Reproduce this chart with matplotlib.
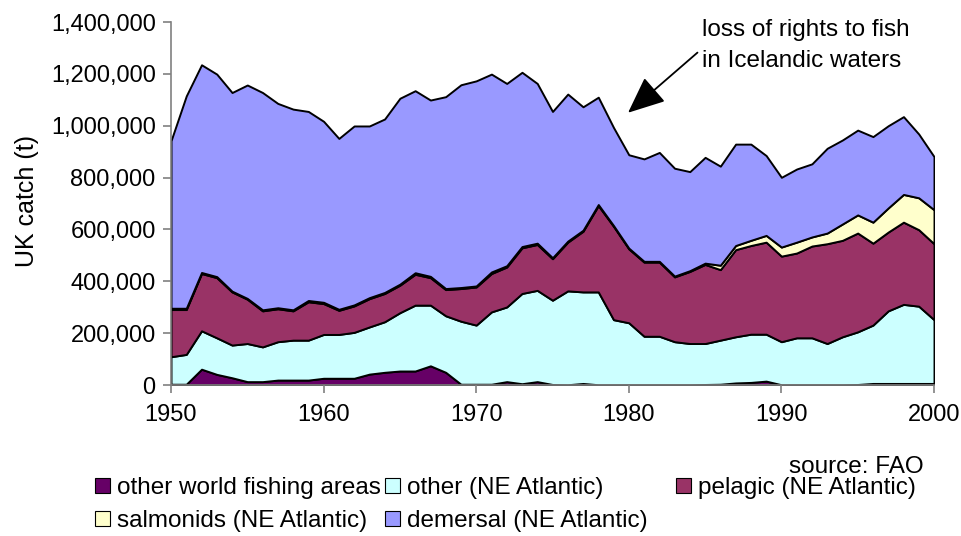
import matplotlib
matplotlib.use("Agg")
import matplotlib.pyplot as plt
from matplotlib.patches import Patch
from matplotlib.ticker import FuncFormatter

plt.rcParams['font.family'] = ['Liberation Sans', 'DejaVu Sans']

years = list(range(1950, 2001))

# catch in thousand tonnes
other_world = [3, 3, 61, 41, 28, 13, 13, 19, 19, 19, 26, 26, 26, 42, 49, 54, 54, 74, 49, 3,
               3, 3, 13, 5, 13, 2, 1, 6, 1, 1, 1, 1, 1, 1, 1, 2, 3, 8, 10, 15,
               1, 1, 1, 1, 1, 2, 6, 6, 6, 6, 6]
other_ne = [106, 115, 148, 141, 126, 147, 134, 148, 154, 154, 169, 169, 177, 182, 195, 225, 254, 234, 218, 243,
            228, 279, 288, 348, 352, 325, 362, 353, 358, 251, 239, 187, 187, 166, 159, 158, 170, 178, 186, 181,
            166, 181, 181, 159, 185, 203, 225, 280, 305, 298, 246]
pelagic = [182, 173, 221, 232, 205, 171, 139, 127, 113, 148, 119, 93, 102, 109, 109, 106, 119, 106, 101, 126,
           147, 148, 154, 176, 177, 160, 188, 234, 333, 360, 285, 286, 286, 250, 278, 305, 272, 336, 342, 355,
           330, 327, 354, 385, 372, 381, 316, 304, 317, 295, 293]
salmonids = [5, 5, 4, 4, 3, 3, 4, 4, 4, 5, 5, 4, 4, 4, 4, 4, 6, 5, 4, 4,
             4, 6, 5, 5, 5, 4, 4, 4, 4, 3, 3, 3, 3, 3, 3, 5, 17, 16, 20, 26,
             35, 42, 35, 41, 63, 70, 81, 93, 107, 123, 131]
demersal = [646, 819, 801, 781, 766, 823, 838, 788, 774, 729, 698, 659, 690, 662, 669, 717, 702, 680, 740, 782,
            791, 763, 703, 672, 616, 564, 567, 476, 414, 378, 360, 395, 420, 416, 382, 408, 382, 391, 371, 308,
            269, 282, 282, 327, 324, 327, 330, 317, 300, 246, 205]

series = [other_world, other_ne, pelagic, salmonids, demersal]
labels = ["other world fishing areas", "other (NE Atlantic)", "pelagic (NE Atlantic)",
          "salmonids (NE Atlantic)", "demersal (NE Atlantic)"]
colors = ["#660066", "#CCFFFF", "#993366", "#FFFFCC", "#9999FF"]

W, H = 962, 536
fig = plt.figure(figsize=(W / 100, H / 100), dpi=100)
ax = fig.add_axes([171 / W, 1 - 385 / H, (934 - 171) / W, (385 - 22) / H])

vals = [[v * 1000 for v in s] for s in series]
ax.stackplot(years, *vals, colors=colors, edgecolor="black", linewidth=1.4)

ax.set_xlim(1950, 2000)
ax.set_ylim(0, 1400000)
ax.set_xticks(range(1950, 2001, 10))
ax.set_yticks(range(0, 1400001, 200000))
ax.yaxis.set_major_formatter(FuncFormatter(lambda v, p: f"{int(v):,}"))
for s in ["top", "right"]:
    ax.spines[s].set_visible(False)
for s in ["left", "bottom"]:
    ax.spines[s].set_color("#808080")
    ax.spines[s].set_linewidth(1.2)
ax.tick_params(axis="both", colors="#808080", labelcolor="black", labelsize=17,
               length=6, width=1.2, direction="out")
ax.tick_params(axis="x", pad=8)
ax.tick_params(axis="y", pad=5)

fig.text(27 / W, 1 - 201 / H, "UK catch (t)", rotation=90, ha="center", va="center", fontsize=18)

ax.annotate("", xy=(1979.95, 1050000), xytext=(1984.5, 1282000),
            arrowprops=dict(arrowstyle="-|>,head_length=2.3,head_width=1.0",
                            color="black", lw=1.3, shrinkA=0, shrinkB=0))
ax.text(1984.8, 1410000, "loss of rights to fish\nin Icelandic waters", fontsize=17.5,
        ha="left", va="top", linespacing=1.5)

fig.text(789 / W, 1 - 467 / H, "source: FAO", fontsize=17.5, ha="left", va="center")

handles = [Patch(facecolor=c, edgecolor="black", linewidth=0.8) for c in colors]
positions = [(95, 488), (385, 488), (676, 488), (95, 521), (385, 521)]
for h, lab, (px, py) in zip(handles, labels, positions):
    leg = fig.legend([h], [lab], loc="center left", bbox_to_anchor=(px / W, 1 - py / H),
                     frameon=False, fontsize=17.5, handlelength=0.6, handleheight=0.6,
                     handletextpad=0.3, borderpad=0, borderaxespad=0)

fig.savefig("out.png", dpi=100)
